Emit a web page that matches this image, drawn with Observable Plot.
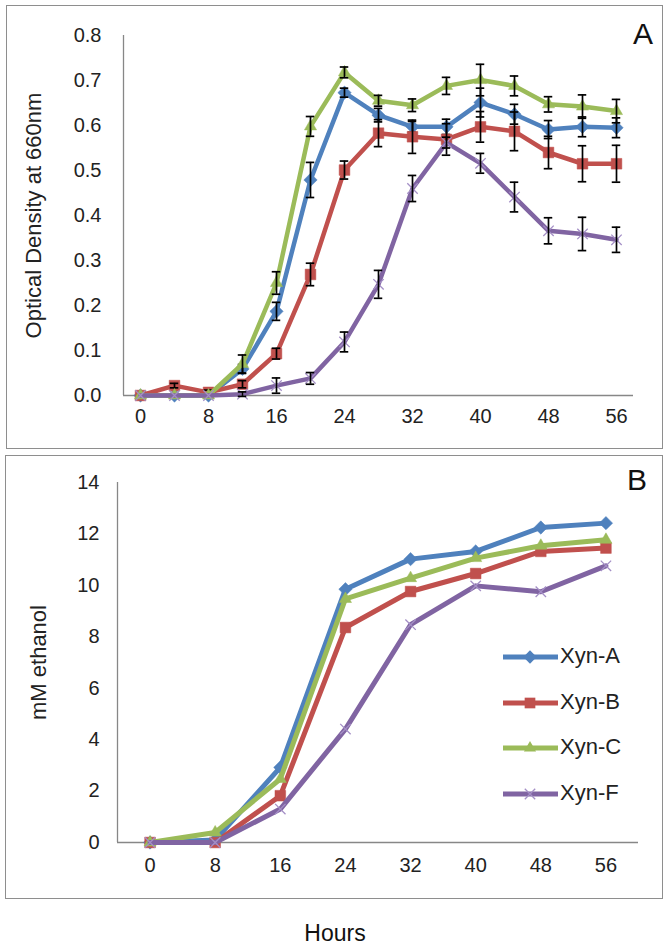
<!DOCTYPE html>
<html><head><meta charset="utf-8">
<script src="https://cdn.jsdelivr.net/npm/d3@7"></script>
<script src="https://cdn.jsdelivr.net/npm/@observablehq/plot@0.6"></script>
<style>
body{margin:0;background:#fff;font-family:"Liberation Sans",Arial,sans-serif;}
#root{position:relative;width:672px;height:950px;overflow:hidden;}
.box{position:absolute;border:1.5px solid #8e8e8e;box-sizing:border-box;pointer-events:none;}
.letter{position:absolute;font-size:30px;color:#111;line-height:1;}
.leg{position:absolute;font-size:22px;color:#222;line-height:1;}
</style></head><body><div id="root"></div>
<script>
// ---- data ----
const series = ["Xyn-A", "Xyn-B", "Xyn-C", "Xyn-F"];
const colors = ["#4F81BD", "#C0504D", "#9BBB59", "#8064A2"];
const symbols = ["diamond2", "square2", "triangle2", "times"];

// Panel A: optical density at 660 nm
const hoursA = [0, 4, 8, 12, 16, 20, 24, 28, 32, 36, 40, 44, 48, 52, 56];
const odA = [0, 0, 0, 0.059, 0.187, 0.479, 0.673, 0.623, 0.597, 0.597, 0.651, 0.625, 0.591, 0.597, 0.595];
const odB = [0, 0.022, 0.007, 0.025, 0.093, 0.269, 0.501, 0.583, 0.575, 0.569, 0.597, 0.587, 0.540, 0.515, 0.515];
const odC = [0, 0, 0, 0.070, 0.250, 0.598, 0.718, 0.655, 0.645, 0.688, 0.701, 0.688, 0.647, 0.642, 0.632];
const odF = [0, 0, 0, 0.003, 0.022, 0.038, 0.119, 0.247, 0.460, 0.562, 0.516, 0.441, 0.366, 0.359, 0.346];
const errA = [0, 0, 0, 0.010, 0.020, 0.039, 0.010, 0.015, 0.012, 0.017, 0.032, 0.022, 0.020, 0.022, 0.022];
const errB = [0, 0.005, 0.005, 0.008, 0.012, 0.025, 0.020, 0.030, 0.037, 0.035, 0.034, 0.043, 0.036, 0.040, 0.041];
const errC = [0, 0, 0, 0.020, 0.025, 0.022, 0.012, 0.012, 0.014, 0.019, 0.035, 0.022, 0.017, 0.026, 0.026];
const errF = [0, 0, 0, 0.005, 0.017, 0.013, 0.022, 0.031, 0.029, 0.012, 0.022, 0.033, 0.029, 0.037, 0.028];
const yTicksA = [0, 0.1, 0.2, 0.3, 0.4, 0.5, 0.6, 0.7, 0.8];

// Panel B: mM ethanol
const hoursB = [0, 8, 16, 24, 32, 40, 48, 56];
const etA = [0, 0.10, 2.92, 9.85, 11.02, 11.32, 12.25, 12.42];
const etB = [0, 0, 1.82, 8.36, 9.76, 10.46, 11.32, 11.45];
const etC = [0, 0.39, 2.47, 9.47, 10.28, 11.06, 11.54, 11.77];
const etF = [0, 0, 1.30, 4.41, 8.47, 9.98, 9.75, 10.76];
const yTicksB = [0, 2, 4, 6, 8, 10, 12, 14];

const xTicks = [0, 8, 16, 24, 32, 40, 48, 56];
const labelA = "Optical Density at 660nm";
const labelB = "mM ethanol";
const labelX = "Hours";

// ---- build ----
const root = document.getElementById("root");
const dotR = [6.0, 6.8, 5.8, 4.8];

function rowsOf(hours, vals, errs, s) {
  return hours.map((h, i) => ({series: s, hour: h, v: vals[i], e: errs ? errs[i] : 0}));
}

function seriesMarks(rows, k, lw, withErr) {
  const c = colors[k];
  const marks = [
    Plot.line(rows, {x: "hour", y: "v", stroke: c, strokeWidth: lw, strokeLinejoin: "round", strokeLinecap: "round"}),
  ];
  if (symbols[k] === "times") {
    marks.push(Plot.dot(rows, {x: "hour", y: "v", symbol: "times", r: dotR[k], stroke: "#a48fc6", strokeWidth: 1.3}));
  } else {
    marks.push(Plot.dot(rows, {x: "hour", y: "v", symbol: symbols[k], r: dotR[k], fill: c, stroke: c, strokeWidth: 0.5}));
  }
  if (withErr) {
    const er = rows.filter(d => d.e > 0);
    marks.push(Plot.ruleX(er, {x: "hour", y1: d => d.v - d.e, y2: d => d.v + d.e, stroke: "#000", strokeWidth: 1.7}));
    marks.push(Plot.ruleY(er, {y: d => d.v + d.e, x1: d => d.hour - 0.5, x2: d => d.hour + 0.5, stroke: "#000", strokeWidth: 1.7}));
    marks.push(Plot.ruleY(er, {y: d => d.v - d.e, x1: d => d.hour - 0.5, x2: d => d.hour + 0.5, stroke: "#000", strokeWidth: 1.7}));
  }
  return marks;
}

function place(el, left, top) {
  el.style.position = "absolute";
  el.style.left = left + "px";
  el.style.top = top + "px";
  root.appendChild(el);
}

// Panel A
const dataA = [
  rowsOf(hoursA, odA, errA, series[0]),
  rowsOf(hoursA, odB, errB, series[1]),
  rowsOf(hoursA, odC, errC, series[2]),
  rowsOf(hoursA, odF, errF, series[3])
];
const plotA = Plot.plot({
  width: 656, height: 442,
  marginLeft: 117, marginRight: 29, marginTop: 29, marginBottom: 53,
  x: {domain: [-2, 58]},
  y: {domain: [0, 0.8]},
  style: {fontFamily: "'Liberation Sans', Arial, sans-serif", fontSize: "20px", color: "#222", background: "transparent", overflow: "visible"},
  marks: [
    Plot.axisY({ticks: yTicksA, tickSize: 0, tickPadding: 22, tickFormat: d3.format(".1f"), label: null}),
    Plot.axisX({ticks: xTicks, tickSize: 0, tickPadding: 13, label: null}),
    Plot.ruleX([-2], {stroke: "#878787", strokeWidth: 1.3}),
    Plot.ruleY([0], {stroke: "#878787", strokeWidth: 1.3}),
    Plot.text([labelA], {frameAnchor: "left", rotate: -90, dx: -90, lineAnchor: "middle", textAnchor: "middle", fontSize: 22, fill: "#222"}),
    ...dataA.flatMap((rows, k) => seriesMarks(rows, k, 4.5, true))
  ]
});
place(plotA, 6, 6);

// Panel B
const dataB = [
  rowsOf(hoursB, etA, null, series[0]),
  rowsOf(hoursB, etB, null, series[1]),
  rowsOf(hoursB, etC, null, series[2]),
  rowsOf(hoursB, etF, null, series[3])
];
const plotB = Plot.plot({
  width: 657, height: 444,
  marginLeft: 112, marginRight: 24, marginTop: 27, marginBottom: 57,
  x: {domain: [-4, 60]},
  y: {domain: [0, 14]},
  style: {fontFamily: "'Liberation Sans', Arial, sans-serif", fontSize: "20px", color: "#222", background: "transparent", overflow: "visible"},
  marks: [
    Plot.axisY({ticks: yTicksB, tickSize: 0, tickPadding: 18, label: null}),
    Plot.axisX({ticks: xTicks, tickSize: 0, tickPadding: 15, label: null}),
    Plot.ruleX([-4], {stroke: "#878787", strokeWidth: 1.3}),
    Plot.ruleY([0], {stroke: "#878787", strokeWidth: 1.3}),
    Plot.text([labelB], {frameAnchor: "left", rotate: -90, dx: -79, lineAnchor: "middle", textAnchor: "middle", fontSize: 22, fill: "#222"}),
    ...dataB.flatMap((rows, k) => seriesMarks(rows, k, 5, false))
  ]
});
place(plotB, 5, 455);

// frames
function box(l, t, w, h) {
  const d = document.createElement("div");
  d.className = "box";
  d.style.left = l + "px"; d.style.top = t + "px";
  d.style.width = w + "px"; d.style.height = h + "px";
  root.appendChild(d);
}
box(6, 5, 657, 444);
box(5, 455, 658, 444);

// panel letters
function letter(txt, cx, cy) {
  const d = document.createElement("div");
  d.className = "letter";
  d.textContent = txt;
  d.style.left = (cx - 10) + "px";
  d.style.top = (cy - 15) + "px";
  root.appendChild(d);
}
letter("A", 643, 34);
letter("B", 637, 480);

// legend
const legY = [657, 703, 748, 794];
series.forEach((s, k) => {
  const svg = d3.create("svg").attr("width", 60).attr("height", 24)
    .style("position", "absolute").style("left", "500px").style("top", (legY[k] - 12) + "px");
  svg.append("line").attr("x1", 3).attr("x2", 58).attr("y1", 12).attr("y2", 12)
    .attr("stroke", colors[k]).attr("stroke-width", 5);
  const sym = [d3.symbolDiamond2, d3.symbolSquare2, d3.symbolTriangle2, d3.symbolTimes][k];
  const r = dotR[k];
  const p = svg.append("path").attr("transform", "translate(30,12)")
    .attr("d", d3.symbol(sym, Math.PI * r * r)());
  if (k === 3) p.attr("fill", "none").attr("stroke", "#a48fc6").attr("stroke-width", 1.3);
  else p.attr("fill", colors[k]);
  root.appendChild(svg.node());
  const t = document.createElement("div");
  t.className = "leg";
  t.textContent = s;
  t.style.left = "560px";
  t.style.top = (legY[k] - 12) + "px";
  root.appendChild(t);
});

// shared x label
const hx = document.createElement("div");
hx.textContent = labelX;
hx.style.cssText = "position:absolute;left:285px;width:100px;text-align:center;top:922px;font-size:23px;color:#111;line-height:1;";
root.appendChild(hx);
</script>
</body></html>
